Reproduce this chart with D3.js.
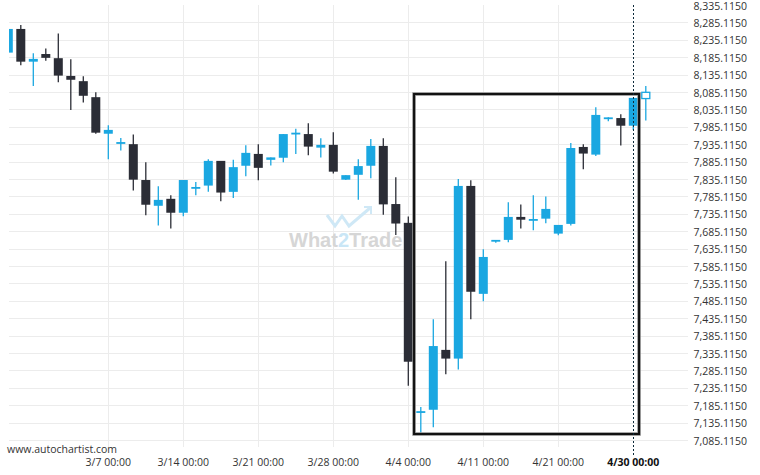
<!DOCTYPE html>
<html><head><meta charset="utf-8">
<script src="https://cdn.jsdelivr.net/npm/d3@7"></script>
<style>
html,body{margin:0;padding:0;background:#fff;}
svg{display:block;font-family:"Open Sans",sans-serif;}
</style></head>
<body>
<svg id="chart" width="760" height="475"></svg>
<script>
// ---- data (daily candles, oldest first) ----
const opens  = [8198,8266,8172,8194,8182,8131,8116,8070,7965,7936,7935,7832,7758,7778,7738,7810,7816,7887,7798,7873,7907,7890,7896,7964,7964,7925,7933,7833,7847,7873,7930,7763,7709,7166,7172,7344,7319,7815,7505,7656,7660,7726,7716,7721,7678,7706,7927,7905,8008,8010,7988,8066];
const highs  = [8266,8277,8196,8210,8253,8179,8130,8084,7989,7953,7963,7883,7814,7788,7832,7826,7892,7887,7890,7932,7935,7897,7964,7979,7995,7952,7969,7846,7892,7950,7952,7840,7727,7180,7432,7599,7835,7831,7633,7660,7768,7762,7788,7785,7703,7938,7935,8041,8012,8021,8068,8102];
const lows   = [8198,8162,8102,8175,8113,8033,8055,7965,7892,7917,7802,7731,7701,7693,7728,7788,7798,7771,7780,7843,7831,7874,7883,7907,7903,7897,7851,7832,7775,7837,7732,7674,7241,7106,7122,7274,7288,7432,7484,7652,7653,7693,7688,7708,7673,7701,7863,7901,8001,7931,7976,8003];
const closes = [8266,8172,8180,8183,8132,8120,8074,7968,7976,7941,7833,7761,7775,7738,7832,7812,7887,7796,7869,7910,7867,7897,7964,7968,7928,7933,7856,7846,7872,7930,7762,7707,7310,7168,7355,7319,7815,7511,7611,7660,7726,7718,7720,7749,7703,7924,7908,8019,8012,7988,8068,8084];
const tickIndex  = [8,14,20,26,32,38,44,50];
const tickLabels = ["3/7 00:00","3/14 00:00","3/21 00:00","3/28 00:00","4/4 00:00","4/11 00:00","4/21 00:00","4/30 00:00"];
const priceTicks = d3.range(7085.115, 8335.2, 50);
// pattern box: candle index range and price range
const patternIdx   = [32.46, 50.46];
const patternPrice = [7102.3, 8079.1];
const markerIdx = 50;

const UP = "#1aa7e1", DOWN = "#2b2d36";
const L = 9, R = 688, T = 5, B = 447;

const svg = d3.select("#chart");
const x = d3.scaleLinear().domain([0.056, 54.376]).range([L, R]);
const y = d3.scaleLinear().domain([7085.115, 8285.115]).range([440, 22.3]);

const candles = opens.map((o,i)=>({i, o, h:highs[i], l:lows[i], c:closes[i]}));

svg.append("defs").append("clipPath").attr("id","clip")
  .append("rect").attr("x",L).attr("y",T).attr("width",R-L).attr("height",B-T);

// horizontal grid
svg.append("g").selectAll("line").data(priceTicks.filter(v=>y(v)>T+2)).join("line")
  .attr("x1",L).attr("x2",R).attr("y1",d=>Math.round(y(d))+0.5).attr("y2",d=>Math.round(y(d))+0.5)
  .attr("stroke","#ececec").attr("stroke-width",1);
// vertical grid
svg.append("g").selectAll("line").data(tickIndex.slice(0,-1)).join("line")
  .attr("x1",d=>Math.round(x(d))+0.5).attr("x2",d=>Math.round(x(d))+0.5).attr("y1",T).attr("y2",B)
  .attr("stroke","#ececec").attr("stroke-width",1);

// y labels
svg.append("g").selectAll("text").data(priceTicks).join("text")
  .attr("x",747).attr("y",d=>y(d)+1).attr("dy","0.35em").attr("text-anchor","end")
  .attr("font-size","10.5px").attr("fill","#333").text(d3.format(",.4f"));

// x labels
svg.append("g").selectAll("text").data(tickIndex).join("text")
  .attr("x",d=>x(d)).attr("y",466).attr("text-anchor","middle")
  .attr("font-size","10.5px")
  .attr("font-weight",(d,i)=>d===markerIdx?"bold":"normal")
  .attr("fill",(d)=>d===markerIdx?"#111":"#333")
  .text((d,i)=>tickLabels[i]);

// watermark
const wm = svg.append("g").attr("opacity",1);
wm.append("polyline").attr("points","327,215 335,226 342,216 349,226 370,208")
  .attr("fill","none").attr("stroke","#cfe8f6").attr("stroke-width",3).attr("stroke-linejoin","miter");
wm.append("polyline").attr("points","364,207 371,207 371,214")
  .attr("fill","none").attr("stroke","#cfe8f6").attr("stroke-width",2);
const wt = wm.append("text").attr("x",289).attr("y",247).attr("font-family","'Liberation Sans',Arial,sans-serif")
  .attr("font-weight","bold").attr("font-size","20px").attr("fill","#d6d6d6");
wt.append("tspan").text("What");
wt.append("tspan").attr("fill","#c9e6f6").text("2");
wt.append("tspan").text("Trade");

// candles
const g = svg.append("g").attr("clip-path","url(#clip)");
const last = candles.length-1;
g.selectAll("line.wick").data(candles).join("line").attr("class","wick")
  .attr("x1",d=>x(d.i)).attr("x2",d=>x(d.i)).attr("y1",d=>y(d.h)).attr("y2",d=>y(d.l))
  .attr("stroke",d=>d.c>=d.o?UP:DOWN).attr("stroke-width",1.3);
g.selectAll("rect.body").data(candles).join("rect").attr("class","body")
  .attr("x",d=>x(d.i)-4.5).attr("width",9)
  .attr("y",d=>y(Math.max(d.o,d.c)))
  .attr("height",d=>Math.max(1.8, Math.abs(y(d.o)-y(d.c))))
  .attr("fill",d=>d.i===last?"#fff":(d.c>=d.o?UP:DOWN))
  .attr("stroke",d=>d.i===last?UP:"none").attr("stroke-width",1.3);
// redraw hollow candle inset so stroke stays inside
g.selectAll("rect.body").filter(d=>d.i===last)
  .attr("x",d=>x(d.i)-4).attr("width",8);

// pattern box
const bx = x(patternIdx[0]), bw = x(patternIdx[1])-bx, by = y(patternPrice[1]), bh = y(patternPrice[0])-by;
svg.append("rect").attr("x",bx).attr("y",by).attr("width",bw).attr("height",bh)
  .attr("fill","none").attr("stroke","#8a8a8a").attr("stroke-width",3.5);
svg.append("rect").attr("x",bx).attr("y",by).attr("width",bw).attr("height",bh)
  .attr("fill","none").attr("stroke","#111").attr("stroke-width",2);

// marker dashed line
svg.append("line").attr("x1",Math.round(x(markerIdx))+0.5).attr("x2",Math.round(x(markerIdx))+0.5)
  .attr("y1",T).attr("y2",455).attr("stroke","#0d2a3a").attr("stroke-width",1).attr("stroke-dasharray","2,2");

// source
svg.append("text").attr("x",7).attr("y",453).attr("font-size","10.5px").attr("fill","#333").text("www.autochartist.com");
</script>
</body></html>
